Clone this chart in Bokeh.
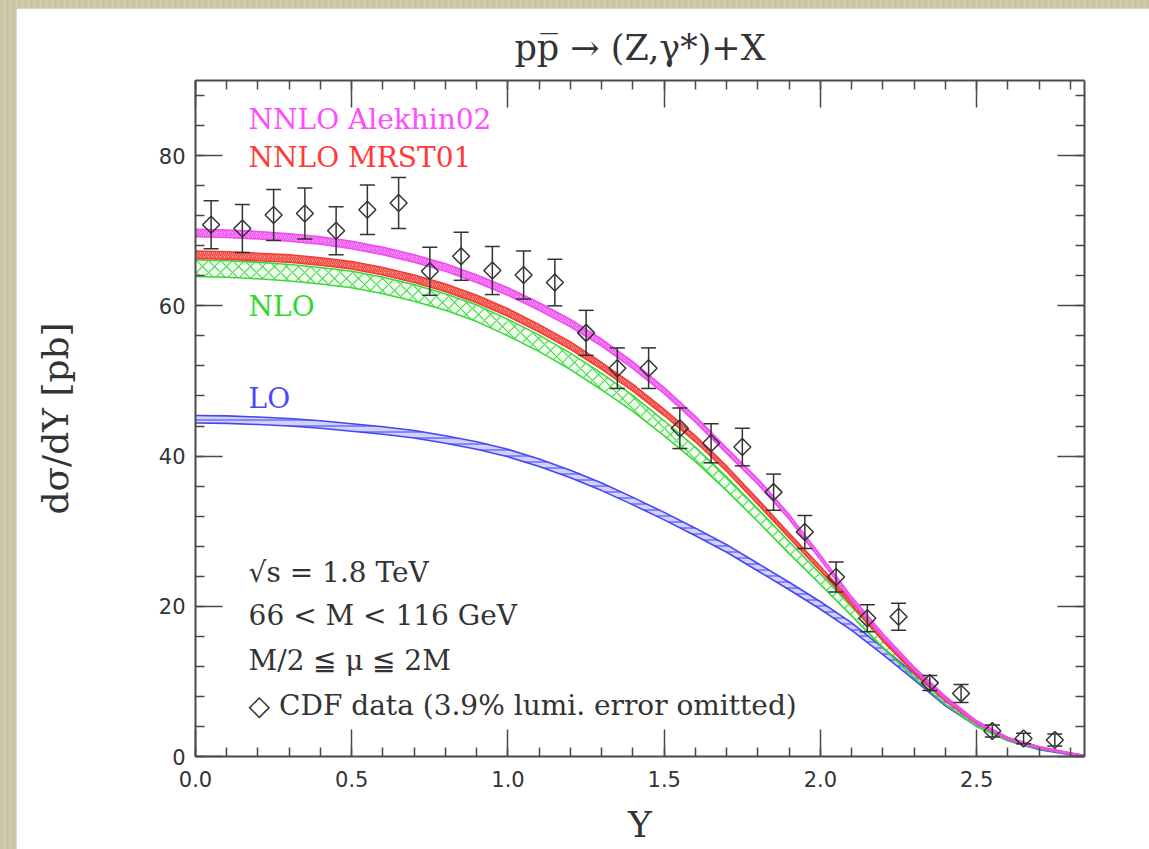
import numpy as np
from bokeh.plotting import figure
from bokeh.models import (Label, LinearAxis, SingleIntervalTicker, Range1d,
                          PrintfTickFormatter, CustomJSTickFormatter)
from bokeh.layouts import column
from bokeh.embed import file_html
from bokeh.resources import INLINE

# ---- theory predictions: dsigma/dY [pb] versus rapidity Y ----
rapidity = [0.0, 0.1, 0.2, 0.3, 0.4, 0.5, 0.6, 0.7, 0.8, 0.9,
            1.0, 1.1, 1.2, 1.3, 1.4, 1.5, 1.6, 1.7, 1.8, 1.9,
            2.0, 2.1, 2.2, 2.3, 2.4, 2.5, 2.6, 2.7, 2.8, 2.85]

lo_center = [44.9, 44.85, 44.7, 44.5, 44.2, 43.8, 43.4, 42.9, 42.2, 41.4,
             40.4, 39.1, 37.6, 35.9, 34.0, 32.0, 29.9, 27.7, 25.2, 22.7,
             20.1, 17.3, 14.0, 10.6, 7.1, 4.3, 2.3, 1.0, 0.3, 0.05]
lo_spread = [0.5, 0.5, 0.5, 0.5, 0.5, 0.5, 0.5, 0.5, 0.5, 0.5,
             0.5, 0.5, 0.5, 0.5, 0.5, 0.5, 0.5, 0.5, 0.5, 0.5,
             0.5, 0.5, 0.45, 0.4, 0.35, 0.3, 0.2, 0.1, 0.05, 0.0]

nlo_center = [65.0, 64.9, 64.7, 64.4, 64.0, 63.5, 62.7, 61.7, 60.5, 59.0,
              57.1, 55.0, 52.6, 49.9, 47.0, 43.7, 40.2, 36.3, 32.1, 27.8,
              23.6, 19.3, 15.0, 10.9, 7.3, 4.3, 2.3, 1.1, 0.4, 0.1]
nlo_spread = [1.1, 1.1, 1.1, 1.1, 1.1, 1.1, 1.1, 1.1, 1.1, 1.1,
              1.1, 1.1, 1.1, 1.1, 1.05, 1.0, 0.95, 0.9, 0.85, 0.8,
              0.7, 0.6, 0.55, 0.45, 0.35, 0.3, 0.2, 0.1, 0.05, 0.0]

mrst_center = [66.8, 66.7, 66.5, 66.3, 65.9, 65.4, 64.6, 63.6, 62.4, 60.9,
               59.1, 57.0, 54.7, 52.0, 49.1, 45.8, 42.3, 38.3, 33.9, 29.4,
               25.0, 20.4, 15.6, 11.3, 7.6, 4.5, 2.4, 1.2, 0.4, 0.1]
mrst_spread = [0.5, 0.5, 0.5, 0.5, 0.5, 0.5, 0.5, 0.5, 0.5, 0.5,
               0.5, 0.5, 0.5, 0.45, 0.45, 0.4, 0.4, 0.35, 0.35, 0.3,
               0.3, 0.25, 0.25, 0.2, 0.2, 0.15, 0.1, 0.1, 0.05, 0.0]

alekhin_center = [69.7, 69.6, 69.4, 69.1, 68.7, 68.1, 67.3, 66.3, 65.1, 63.6,
                  61.9, 59.9, 57.7, 55.1, 52.1, 48.7, 44.9, 40.7, 36.6, 31.9,
                  26.5, 21.0, 16.1, 11.7, 7.8, 4.6, 2.4, 1.2, 0.4, 0.1]
alekhin_spread = [0.5, 0.5, 0.5, 0.5, 0.5, 0.5, 0.5, 0.5, 0.5, 0.5,
                  0.5, 0.5, 0.5, 0.45, 0.45, 0.4, 0.4, 0.35, 0.35, 0.3,
                  0.3, 0.25, 0.25, 0.2, 0.2, 0.15, 0.1, 0.1, 0.05, 0.0]

# ---- CDF measurement ----
cdf_y = [0.05, 0.15, 0.25, 0.35, 0.45, 0.55, 0.65, 0.75, 0.85, 0.95,
         1.05, 1.15, 1.25, 1.35, 1.45, 1.55, 1.65, 1.75, 1.85, 1.95,
         2.05, 2.15, 2.25, 2.35, 2.45, 2.55, 2.65, 2.75]
cdf_sigma = [70.8, 70.3, 72.1, 72.3, 70.0, 72.8, 73.7, 64.6, 66.6, 64.7,
             64.1, 63.1, 56.4, 51.7, 51.7, 43.7, 41.7, 41.2, 35.2, 29.9,
             23.9, 18.4, 18.6, 9.8, 8.4, 3.4, 2.4, 2.2]
cdf_err = [3.2, 3.2, 3.4, 3.4, 3.2, 3.3, 3.4, 3.2, 3.2, 3.2,
           3.2, 3.1, 3.0, 2.7, 2.7, 2.7, 2.6, 2.5, 2.4, 2.2,
           2.0, 1.8, 1.8, 1.0, 1.2, 0.8, 0.7, 0.8]

AXIS = "#4a4a4a"
INK = "#333333"
SERIF = "DejaVu Serif"

p = figure(width=1133, height=841, x_range=Range1d(0, 2.845), y_range=Range1d(0, 90),
           output_backend="svg", toolbar_location=None,
           min_border_left=179, min_border_right=65, min_border_top=72, min_border_bottom=93,
           background_fill_color="white", border_fill_color="white",
           outline_line_color=None)
p.grid.visible = False

p.title.text = "pp\u0305 \u2192 (Z,\u03b3*)+X"
p.title.align = "center"
p.title.text_font = SERIF
p.title.text_font_size = "35px"
p.title.text_font_style = "normal"
p.title.text_color = INK
p.title.standoff = 25


def style_axis(ax, ticker, show_labels):
    ax.ticker = ticker
    ax.axis_line_color = AXIS
    ax.axis_line_width = 2
    ax.major_tick_in = 27
    ax.major_tick_out = 0
    ax.minor_tick_in = 9
    ax.minor_tick_out = 0
    ax.major_tick_line_color = AXIS
    ax.major_tick_line_width = 1.5
    ax.minor_tick_line_color = AXIS
    ax.minor_tick_line_width = 1.5
    if show_labels:
        ax.major_label_text_font = "DejaVu Sans"
        ax.major_label_text_font_size = "21px"
        ax.major_label_text_color = INK
    else:
        # tick marks only on the mirrored sides of the frame
        ax.formatter = CustomJSTickFormatter(code="return ''")
        ax.major_label_standoff = 0


style_axis(p.xaxis[0], SingleIntervalTicker(interval=0.5, num_minor_ticks=5), True)
style_axis(p.yaxis[0], SingleIntervalTicker(interval=20, num_minor_ticks=5), True)
p.xaxis[0].formatter = PrintfTickFormatter(format="%.1f")
p.xaxis[0].major_label_standoff = 14
p.yaxis[0].major_label_standoff = 10

p.xaxis[0].axis_label = "Y"
p.yaxis[0].axis_label = "d\u03c3/dY [pb]"
for ax, standoff in ((p.xaxis[0], 14), (p.yaxis[0], 80)):
    ax.axis_label_text_font = SERIF
    ax.axis_label_text_font_size = "36px"
    ax.axis_label_text_font_style = "normal"
    ax.axis_label_text_color = INK
    ax.axis_label_standoff = standoff

top_axis = LinearAxis()
right_axis = LinearAxis()
style_axis(top_axis, SingleIntervalTicker(interval=0.5, num_minor_ticks=5), False)
style_axis(right_axis, SingleIntervalTicker(interval=20, num_minor_ticks=5), False)
p.add_layout(top_axis, "above")
p.add_layout(right_axis, "right")

# ---- theory bands ----
Y = np.array(rapidity)


def band(center, spread, color, fill_alpha, hatch=None, hatch_scale=10.0):
    c = np.array(center)
    s = np.array(spread)
    lower, upper = c - s, c + s
    kw = {}
    if hatch:
        kw = dict(hatch_pattern=hatch, hatch_color=color, hatch_alpha=0.9,
                  hatch_scale=hatch_scale, hatch_weight=1.2)
    p.varea(x=Y, y1=lower, y2=upper, fill_color=color, fill_alpha=fill_alpha, **kw)
    p.line(Y, upper, line_color=color, line_width=1.6)
    p.line(Y, lower, line_color=color, line_width=1.6)


band(lo_center, lo_spread, "#4646f2", 0.25, hatch="-", hatch_scale=6)
band(nlo_center, nlo_spread, "#3ad83a", 0.08, hatch="x", hatch_scale=12)
band(mrst_center, mrst_spread, "#f23c34", 0.55, hatch="/", hatch_scale=4)
band(alekhin_center, alekhin_spread, "#f04cf0", 0.55, hatch="/", hatch_scale=4)

# ---- CDF points with error bars ----
cy = np.array(cdf_y)
cs = np.array(cdf_sigma)
ce = np.array(cdf_err)
p.segment(x0=cy, y0=cs - ce, x1=cy, y1=cs + ce, line_color=INK, line_width=1.5)
p.scatter(cy, cs + ce, marker="dash", size=15, line_color=INK, line_width=1.5)
p.scatter(cy, cs - ce, marker="dash", size=15, line_color=INK, line_width=1.5)
p.scatter(cy, cs, marker="square", angle=np.pi / 4, size=12,
          fill_alpha=0, line_color=INK, line_width=1.5)

# ---- annotations ----
notes = [
    ("NNLO Alekhin02", 84.8, "#ff4cff"),
    ("NNLO MRST01", 79.7, "#ff3a34"),
    ("NLO", 59.9, "#2fd82f"),
    ("LO", 47.7, "#4848ff"),
    ("\u221as = 1.8 TeV", 24.5, INK),
    ("66 < M < 116 GeV", 18.8, INK),
    ("M/2 \u2266 \u03bc \u2266 2M", 12.8, INK),
    ("\u25c7 CDF data (3.9% lumi. error omitted)", 6.8, INK),
]
for text, yv, color in notes:
    p.add_layout(Label(x=0.17, y=yv, text=text, text_baseline="middle",
                       text_font=SERIF, text_font_size="28px", text_color=color))

p.margin = (8, 0, 0, 16)
root = column(p, width=1149, height=849, sizing_mode="fixed",
              styles={"background": "repeating-linear-gradient(90deg, #cdcaa9 0px, #c4c1a0 2px, #d2cfb0 4px, #cbc8a7 6px)"})

open("out.html", "w").write(file_html(root, INLINE))
